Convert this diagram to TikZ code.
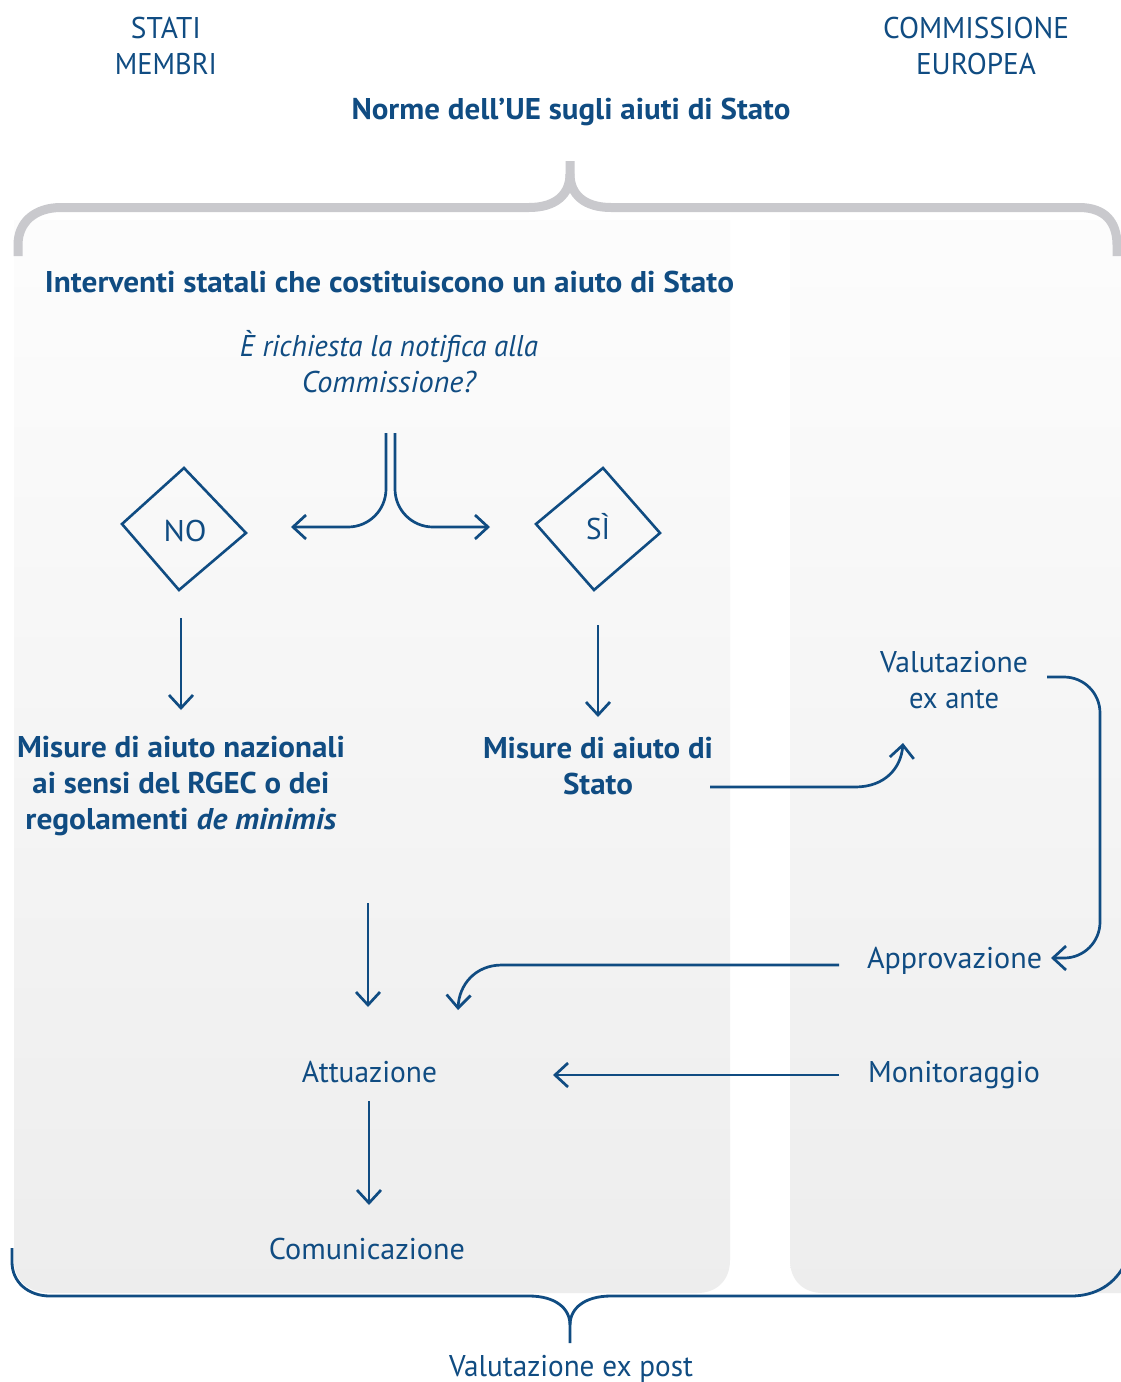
\documentclass[tikz,border=0pt]{standalone}
\usepackage{fontspec}
\setmainfont{PT Sans}
\usepackage{graphicx}
\usetikzlibrary{arrows.meta}
\definecolor{eublue}{RGB}{16,76,130}
\definecolor{bracegray}{RGB}{201,201,205}
\newcommand{\fw}[2]{\resizebox{#1pt}{\height}{#2}}
\begin{document}
\begin{tikzpicture}[x=1pt,y=-1pt,
  txt/.style={text=eublue, inner sep=0pt, anchor=base, align=center, font=\fontsize{30pt}{36pt}\selectfont},
  btxt/.style={txt, font=\fontsize{30pt}{36pt}\selectfont\bfseries},
  itxt/.style={txt, font=\fontsize{30pt}{36pt}\selectfont\itshape},
  conn/.style={draw=eublue, line width=2.7pt, -{Straight Barb[length=13pt,width=24pt]}},
  panel/.style={top color=black!1, bottom color=black!7, draw=none},
  dia/.style={draw=eublue, line width=2.6pt, line join=miter},
  graybrace/.style={draw=bracegray, line width=9pt},
  bluebrace/.style={draw=eublue, line width=2.8pt}
]
\useasboundingbox[fill=white] (0,0) rectangle (1121,1382);

% panels
\shade[panel] (14,220) -- (730,220) -- (730,1260) .. controls (730,1280) and (717,1293) .. (697,1293)
  -- (50,1293) .. controls (28,1293) and (14,1280) .. (14,1260) -- cycle;
\shade[panel] (790,220) -- (1121,220) -- (1121,1293) -- (823,1293)
  .. controls (803,1293) and (790,1280) .. (790,1260) -- cycle;

% top gray brace
\draw[graybrace] (18,256) -- (18,245) .. controls (18,222) and (35,207.5) .. (61,207.5) -- (529,207.5)
  .. controls (555,207.5) and (570,195) .. (570,174) -- (570,161);
\draw[graybrace] (570,174) .. controls (570,195) and (585,207.5) .. (611,207.5) -- (1079,207.5)
  .. controls (1105,207.5) and (1117,222) .. (1117,245) -- (1117,256);

% bottom blue brace
\draw[bluebrace] (12,1248) -- (12,1262) .. controls (12,1282) and (28,1296) .. (50,1296) -- (529,1296)
  .. controls (555,1296) and (570,1308) .. (570,1325) -- (570,1343);
\draw[bluebrace] (570,1325) .. controls (570,1308) and (585,1296) .. (611,1296) -- (1071,1296)
  .. controls (1095,1296) and (1115,1285) .. (1126,1262);

% texts (anchor=base is the baseline of the last line)
\node[txt] (stati) at (166,74) {\fw{70}{STATI}\\\fw{102}{MEMBRI}};
\node[txt] (comm) at (976,74) {\fw{186}{COMMISSIONE}\\\fw{120}{EUROPEA}};
\node[btxt] (norme) at (571,119) {\fw{439}{Norme dell’UE sugli aiuti di Stato}};
\node[btxt] (interv) at (389.5,292) {\fw{689}{Interventi statali che costituiscono un aiuto di Stato}};
\node[itxt] (quest) at (389,392) {\fw{298}{È richiesta la notifica alla}\\\fw{174}{Commissione?}};
\node[txt] (no) at (185,541) {\fw{43}{NO}};
\node[txt] (si) at (598,539) {\fw{24}{SÌ}};
\node[btxt] (naz) at (181,829) {\fw{328}{Misure di aiuto nazionali}\\\fw{297}{ai sensi del RGEC o dei}\\\fw{311}{regolamenti \textit{de minimis}}};
\node[btxt] (stato) at (598,794) {\fw{230}{Misure di aiuto di}\\\fw{70}{Stato}};
\node[txt] (exante) at (954,708) {\fw{148}{Valutazione}\\\fw{90}{ex ante}};
\node[txt] (appr) at (954.5,968) {\fw{175}{Approvazione}};
\node[txt] (monit) at (954,1082) {\fw{172}{Monitoraggio}};
\node[txt] (attu) at (369.5,1082) {\fw{135}{Attuazione}};
\node[txt] (comu) at (367,1259) {\fw{196}{Comunicazione}};
\node[txt] (expost) at (571,1376) {\fw{244}{Valutazione ex post}};

% diamonds
\draw[dia] (184,468) -- (246,533) -- (179,590) -- (122,524) -- cycle;
\draw[dia] (603,468) -- (660,533) -- (594,590) -- (536,524) -- cycle;

% connector end points
\coordinate (qL) at (386,433);
\coordinate (qR) at (395,433);
\coordinate (toNO) at (291,527);
\coordinate (toSI) at (490,527);
\coordinate (noD1) at (181,618);
\coordinate (noD2) at (181,710);
\coordinate (siD1) at (598,625);
\coordinate (siD2) at (598,717);
\coordinate (statoOut) at (710,787);
\coordinate (exanteIn) at (903,743);
\coordinate (exanteOut) at (1047,677);
\coordinate (apprIn) at (1051,958);
\coordinate (apprOut) at (839,965);
\coordinate (attuIn1) at (458,1010);
\coordinate (monitOut) at (839,1075);
\coordinate (attuIn2) at (553,1075);
\coordinate (nazD1) at (368,903);
\coordinate (nazD2) at (368,1007);
\coordinate (attuD1) at (369,1101);
\coordinate (attuD2) at (369,1205);

% connectors
\draw[conn, rounded corners=38pt] (qL) -- (386,527) -- (toNO);
\draw[conn, rounded corners=38pt] (qR) -- (395,527) -- (toSI);
\draw[conn] (noD1) -- (noD2);
\draw[conn] (siD1) -- (siD2);
\draw[conn] (statoOut) -- (855,787) .. controls (885,787) and (901,768) .. (exanteIn);
\draw[conn, rounded corners=36pt] (exanteOut) -- (1100,677) -- (1100,958) -- (apprIn);
\draw[conn] (apprOut) -- (502,965) .. controls (475,965) and (459,985) .. (attuIn1);
\draw[conn] (monitOut) -- (attuIn2);
\draw[conn] (nazD1) -- (nazD2);
\draw[conn] (attuD1) -- (attuD2);
\end{tikzpicture}
\end{document}
